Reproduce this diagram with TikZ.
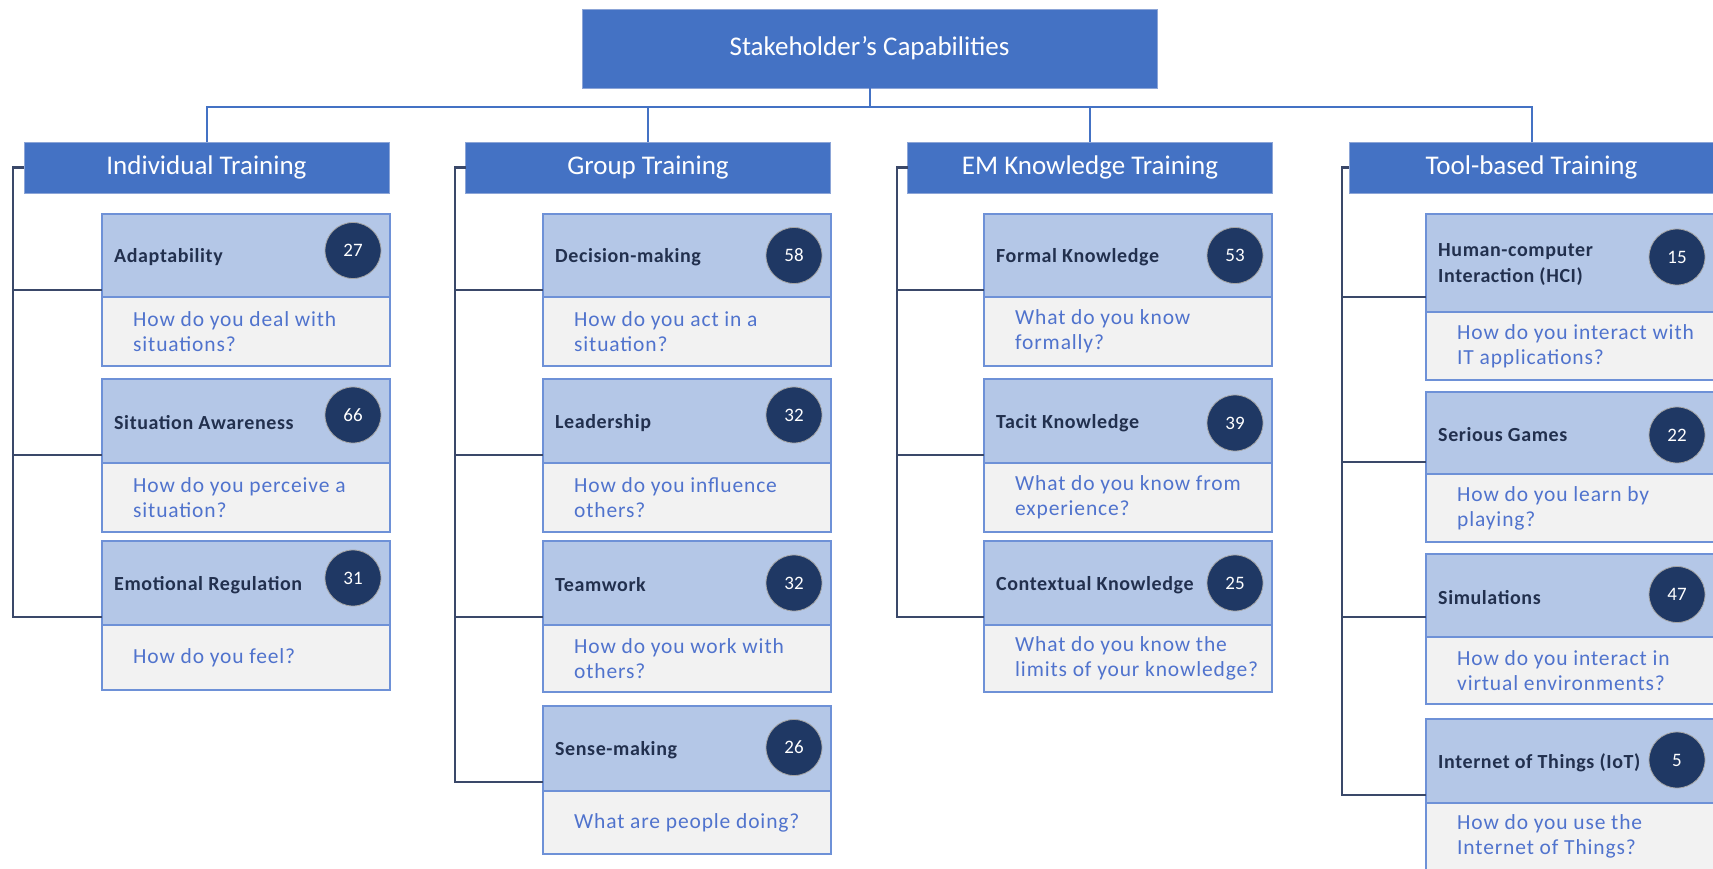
\documentclass[tikz,border=0pt]{standalone}
\usepackage{fontspec}
\usetikzlibrary{calc}
\newfontfamily\fcar{Carlito}
\newfontfamily\fcarQ[LetterSpace=4]{Carlito}
\newfontfamily\fcarL[LetterSpace=3]{Carlito}
\definecolor{cblue}{RGB}{68,114,196}
\definecolor{cblueline}{RGB}{140,165,215}
\definecolor{clight}{RGB}{180,199,231}
\definecolor{cgray}{RGB}{242,242,242}
\definecolor{cedge}{RGB}{110,145,215}
\definecolor{cnavy}{RGB}{34,48,78}
\definecolor{cdark}{RGB}{31,56,100}
\definecolor{cq}{RGB}{80,115,205}
\definecolor{cbus}{RGB}{68,114,196}
\definecolor{cspine}{RGB}{58,72,105}
\tikzset{
 topbox/.style={fill=cblue, draw=cblueline, line width=1pt, minimum width=575pt, minimum height=79pt, text=white, font=\fcar\fontsize{27}{32}\selectfont, inner sep=0pt, outer sep=0pt},
 hdr/.style={topbox, minimum width=365pt, minimum height=51pt},
 khead/.style={fill=clight, draw=cedge, line width=1.5pt, minimum width=288pt, inner sep=0pt, outer sep=0pt},
 kbody/.style={fill=cgray, draw=cedge, line width=1.5pt, minimum width=288pt, inner sep=0pt, outer sep=0pt},
 klabel/.style={font=\fcarL\bfseries\fontsize{20}{26}\selectfont, text=cnavy, align=left, inner sep=0pt},
 knum/.style={circle, fill=cdark, draw=gray!70, line width=0.8pt, minimum size=56pt, inner sep=0pt, text=white, font=\fcar\fontsize{19}{22}\selectfont},
 kq/.style={font=\fcarQ\fontsize{21.5}{25}\selectfont, text=cq, align=left, inner sep=0pt},
 bus/.style={draw=cbus, line width=2pt},
 spine/.style={draw=cspine, line width=2.5pt},
}
\newcommand\kid[9]{%
  \node[khead, minimum height=#4pt, anchor=north west] (#1) at (#2,#3) {};
  \node[kbody, minimum height=#5pt, anchor=north west] (#1b) at (#1.south west) {};
  \node[klabel, anchor=west] (#1l) at ($(#1.west)+(12,2)$) {#6};
  \node[knum] (#1n) at ($(#1.west)+(251,#7)$) {#8};
  \node[kq, anchor=west] (#1q) at ($(#1b.west)+(31,0)$) {#9};
}
\begin{document}
\begin{tikzpicture}[x=1pt,y=-1pt]
\useasboundingbox (0,0) rectangle (1713,868);
% top
\node[topbox] (T) at (869.5,48.5) {Stakeholder’s Capabilities};
\node[hdr] (H1) at (206.5,167.5) {Individual Training};
\node[hdr] (H2) at (648,167.5) {Group Training};
\node[hdr] (H3) at (1090,167.5) {EM Knowledge Training};
\node[hdr] (H4) at (1531.5,167.5) {Tool-based Training};
% bus
\draw[bus] (T.south) -- ++(0,19) coordinate (B);
\draw[bus] (B) -| (H1.north);
\draw[bus] (B) -| (H2.north);
\draw[bus] (B) -| (H3.north);
\draw[bus] (B) -| (H4.north);
% column 1
\kid{a1}{102}{214}{83}{69}{Adaptability}{-5}{27}{How do you deal with\\situations?}
\kid{a2}{102}{379}{84}{69}{Situation Awareness}{-6}{66}{How do you perceive a\\situation?}
\kid{a3}{102}{541}{84}{65}{Emotional Regulation}{-5}{31}{How do you feel?}
% column 2
\kid{b1}{543}{214}{83}{69}{Decision-making}{0}{58}{How do you act in a\\situation?}
\kid{b2}{543}{379}{84}{69}{Leadership}{-6}{32}{How do you influence\\others?}
\kid{b3}{543}{541}{84}{67}{Teamwork}{0}{32}{How do you work with\\others?}
\kid{b4}{543}{706}{85}{63}{Sense-making}{-1}{26}{What are people doing?}
% column 3
\kid{c1}{984}{214}{83}{69}{Formal Knowledge}{0}{53}{What do you know\\formally?}
\kid{c2}{984}{379}{84}{69}{Tacit Knowledge}{2}{39}{What do you know from\\experience?}
\kid{c3}{984}{541}{84}{67}{Contextual Knowledge}{0}{25}{What do you know the\\limits of your knowledge?}
% column 4
\kid{d1}{1426}{214}{98}{68}{Human-computer\\Interaction (HCI)}{-6}{15}{How do you interact with\\IT applications?}
\kid{d2}{1426}{392}{82}{68}{Serious Games}{2}{22}{How do you learn by\\playing?}
\kid{d3}{1426}{554}{83}{67}{Simulations}{-1}{47}{How do you interact in\\virtual environments?}
\kid{d4}{1426}{719}{84}{67}{Internet of Things (IoT)}{-1}{5}{How do you use the\\Internet of Things?}
% spines
\coordinate (S1) at (13,167.5);
\coordinate (S2) at (455,167.5);
\coordinate (S3) at (897,167.5);
\coordinate (S4) at (1342,167.5);
\draw[spine] (H1.west) -- (S1) -- (S1 |- 0,617) -- (a3.west |- 0,617);
\draw[spine] (S1 |- 0,290) -- (a1.west |- 0,290);
\draw[spine] (S1 |- 0,455) -- (a2.west |- 0,455);
\draw[spine] (H2.west) -- (S2) -- (S2 |- 0,782) -- (b4.west |- 0,782);
\draw[spine] (S2 |- 0,290) -- (b1.west |- 0,290);
\draw[spine] (S2 |- 0,455) -- (b2.west |- 0,455);
\draw[spine] (S2 |- 0,617) -- (b3.west |- 0,617);
\draw[spine] (H3.west) -- (S3) -- (S3 |- 0,617) -- (c3.west |- 0,617);
\draw[spine] (S3 |- 0,290) -- (c1.west |- 0,290);
\draw[spine] (S3 |- 0,455) -- (c2.west |- 0,455);
\draw[spine] (H4.west) -- (S4) -- (S4 |- 0,795) -- (d4.west |- 0,795);
\draw[spine] (S4 |- 0,297) -- (d1.west |- 0,297);
\draw[spine] (S4 |- 0,462) -- (d2.west |- 0,462);
\draw[spine] (S4 |- 0,617) -- (d3.west |- 0,617);
\end{tikzpicture}
\end{document}
